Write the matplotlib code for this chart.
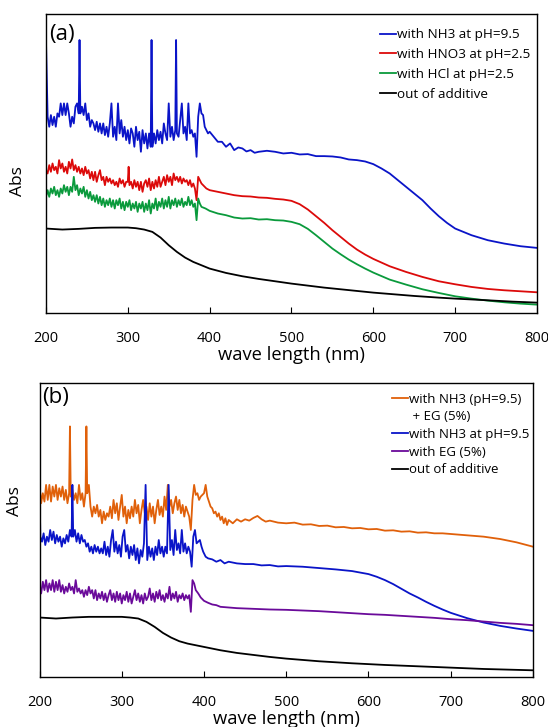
import numpy as np
import matplotlib
matplotlib.use("Agg")
import matplotlib.pyplot as plt

plt.rcParams['font.family'] = ['Open Sans', 'DejaVu Sans']

# ---- panel (a) : (wavelength nm, Abs a.u.)
a_nh3 = [(200, 81.8), (202, 58.8), (204, 55.8), (206, 59.3), (208, 56.3), (210, 58.8), (212, 55.8), (214, 59.8),
         (216, 58.8), (218, 62.8), (220, 59.3), (222, 62.8), (224, 59.3), (226, 62.8), (228, 59.8), (230, 55.8),
         (232, 58.8), (234, 56.8), (236, 61.8), (238, 62.8), (240, 59.8), (241, 81.8), (242, 59.8), (244, 61.8),
         (246, 59.3), (248, 62.8), (250, 57.8), (252, 59.8), (254, 55.8), (256, 57.8), (258, 56.8), (260, 54.8),
         (262, 57.3), (264, 54.3), (266, 56.8), (268, 53.8), (270, 56.8), (272, 53.3), (274, 55.8), (276, 52.8),
         (278, 56.8), (280, 62.8), (282, 52.8), (284, 55.8), (286, 51.8), (288, 62.8), (290, 53.8), (292, 57.8),
         (294, 52.8), (296, 55.8), (298, 51.8), (300, 54.8), (302, 50.8), (304, 55.3), (306, 53.8), (308, 49.8),
         (310, 55.8), (312, 51.8), (314, 54.3), (316, 48.3), (318, 54.8), (320, 50.8), (322, 53.8), (324, 49.3),
         (326, 53.8), (328, 49.8), (329, 81.8), (330, 49.8), (332, 53.8), (334, 50.8), (336, 54.8), (338, 51.8),
         (340, 54.3), (342, 50.8), (344, 56.8), (346, 53.8), (348, 51.8), (350, 62.8), (352, 52.8), (354, 55.8),
         (356, 51.8), (358, 54.8), (359, 81.8), (360, 53.8), (362, 52.8), (364, 57.8), (366, 62.8), (368, 53.8),
         (370, 55.8), (372, 51.8), (374, 62.8), (376, 53.8), (378, 54.8), (380, 52.8), (382, 53.8), (384, 46.8),
         (386, 58.8), (388, 62.8), (390, 59.8), (392, 59.3), (394, 55.8), (396, 54.8), (398, 53.8), (400, 54.3),
         (405, 52.8), (410, 51.3), (415, 51.3), (420, 49.8), (425, 50.8), (430, 48.8), (435, 49.6), (440, 49.3),
         (445, 48.4), (450, 48.8), (455, 48.0), (460, 48.3), (470, 48.6), (480, 48.3), (490, 47.8), (500, 48.0),
         (510, 47.5), (520, 47.6), (530, 47.0), (540, 47.0), (550, 46.9), (560, 46.6), (570, 46.0), (580, 45.8),
         (590, 45.4), (600, 44.6), (610, 43.3), (620, 41.8), (630, 39.8), (640, 37.8), (650, 35.8), (660, 33.8),
         (670, 31.3), (680, 29.0), (690, 27.0), (700, 25.3), (720, 23.3), (740, 21.8), (760, 20.8), (780, 20.0),
         (800, 19.5)]

a_hno3 = [(200, 42.8), (202, 41.8), (204, 44.3), (206, 42.3), (208, 44.8), (210, 42.8), (212, 43.8), (214, 41.8),
          (216, 45.8), (218, 43.3), (220, 44.8), (222, 42.3), (224, 43.8), (226, 41.8), (228, 45.3), (230, 43.3),
          (232, 46.0), (234, 42.8), (236, 44.3), (238, 42.3), (240, 43.8), (242, 41.8), (244, 43.3), (246, 41.3),
          (248, 43.8), (250, 41.8), (252, 42.8), (254, 40.3), (256, 42.3), (258, 39.8), (260, 42.3), (262, 39.3),
          (264, 41.3), (266, 42.8), (268, 39.8), (270, 40.8), (272, 38.3), (274, 40.8), (276, 39.3), (278, 40.3),
          (280, 38.8), (282, 39.8), (284, 38.3), (286, 39.3), (288, 37.8), (290, 40.3), (292, 38.8), (294, 39.8),
          (296, 37.8), (298, 39.3), (300, 39.3), (301, 43.8), (302, 38.3), (304, 39.3), (306, 37.3), (308, 39.8),
          (310, 37.8), (312, 39.3), (314, 36.8), (316, 39.3), (318, 36.3), (320, 38.8), (322, 39.8), (324, 37.8),
          (326, 40.3), (328, 36.8), (330, 39.3), (332, 37.3), (334, 39.8), (336, 37.8), (338, 40.8), (340, 37.8),
          (342, 39.3), (344, 40.8), (346, 38.3), (348, 41.3), (350, 39.3), (352, 40.8), (354, 38.3), (356, 41.8),
          (358, 39.8), (360, 40.8), (362, 39.3), (364, 40.8), (366, 38.8), (368, 40.3), (370, 39.3), (372, 39.8),
          (374, 38.3), (376, 39.8), (378, 37.8), (380, 38.8), (382, 37.3), (384, 33.8), (386, 40.8), (388, 39.8),
          (390, 38.8), (392, 38.3), (394, 37.8), (396, 37.3), (400, 36.8), (410, 36.3), (420, 35.8), (430, 35.3),
          (440, 35.0), (450, 34.9), (460, 34.6), (470, 34.5), (480, 34.2), (490, 34.0), (500, 33.6), (510, 32.6),
          (520, 31.0), (530, 29.0), (540, 27.0), (550, 24.8), (560, 22.8), (570, 20.8), (580, 19.0), (590, 17.5),
          (600, 16.2), (620, 14.0), (640, 12.3), (660, 10.8), (680, 9.5), (700, 8.6), (720, 7.8), (740, 7.2),
          (760, 6.8), (780, 6.5), (800, 6.2)]

a_hcl = [(200, 34.8), (202, 36.8), (204, 34.8), (206, 37.3), (208, 35.8), (210, 37.8), (212, 35.3), (214, 36.8),
         (216, 34.8), (218, 37.3), (220, 35.8), (222, 38.3), (224, 36.3), (226, 37.8), (228, 35.3), (230, 37.8),
         (232, 36.3), (234, 40.8), (236, 36.8), (238, 38.3), (240, 35.3), (242, 37.3), (244, 35.8), (246, 37.8),
         (248, 34.8), (250, 36.8), (252, 34.3), (254, 36.3), (256, 33.8), (258, 35.3), (260, 33.3), (262, 35.3),
         (264, 32.8), (266, 34.8), (268, 32.3), (270, 34.3), (272, 31.8), (274, 33.8), (276, 32.3), (278, 34.3),
         (280, 31.8), (282, 33.8), (284, 31.3), (286, 33.8), (288, 32.3), (290, 34.3), (292, 31.3), (294, 33.3),
         (296, 30.8), (298, 33.3), (300, 31.8), (302, 33.8), (304, 30.8), (306, 32.8), (308, 31.3), (310, 33.3),
         (312, 30.3), (314, 32.8), (316, 31.3), (318, 33.3), (320, 30.3), (322, 32.8), (324, 30.8), (326, 33.8),
         (328, 29.8), (330, 32.8), (332, 31.3), (334, 34.3), (336, 30.8), (338, 33.3), (340, 31.8), (342, 34.3),
         (344, 31.3), (346, 33.8), (348, 31.8), (350, 34.8), (352, 31.3), (354, 33.8), (356, 32.3), (358, 34.3),
         (360, 31.8), (362, 33.8), (364, 32.3), (366, 34.3), (368, 31.8), (370, 33.3), (372, 32.3), (374, 34.8),
         (376, 32.3), (378, 33.8), (380, 31.8), (382, 32.8), (384, 27.8), (386, 34.3), (388, 32.8), (390, 31.8),
         (395, 31.3), (400, 30.6), (410, 29.8), (420, 29.3), (430, 28.6), (440, 28.3), (450, 28.4), (460, 28.0),
         (470, 28.1), (480, 27.8), (490, 27.7), (500, 27.3), (510, 26.6), (520, 25.2), (530, 23.3), (540, 21.3),
         (550, 19.3), (560, 17.6), (570, 16.0), (580, 14.6), (590, 13.3), (600, 12.1), (620, 10.0), (640, 8.5),
         (660, 7.1), (680, 6.0), (700, 5.0), (720, 4.3), (740, 3.7), (760, 3.2), (780, 2.8), (800, 2.5)]

a_none = [(200, 25.3), (220, 25.0), (240, 25.2), (260, 25.5), (280, 25.6), (300, 25.6), (310, 25.4), (320, 25.0),
          (330, 24.3), (340, 22.6), (350, 20.3), (360, 18.3), (370, 16.6), (380, 15.3), (390, 14.3), (400, 13.3),
          (420, 12.0), (440, 11.0), (460, 10.2), (480, 9.5), (500, 8.8), (520, 8.2), (540, 7.6), (560, 7.1),
          (580, 6.6), (600, 6.1), (620, 5.7), (650, 5.1), (680, 4.6), (700, 4.3), (740, 3.8), (770, 3.4),
          (800, 3.1)]

# ---- panel (b)
b_nh3_eg = [(200, 57.5), (202, 52.0), (204, 55.0), (206, 52.5), (208, 57.5), (210, 53.0), (212, 57.5), (214, 52.5),
            (216, 57.0), (218, 54.0), (220, 57.5), (222, 53.0), (224, 56.5), (226, 54.0), (228, 57.0), (230, 53.0),
            (232, 56.0), (234, 52.0), (236, 55.0), (237, 75.0), (238, 54.0), (240, 56.0), (242, 53.0), (244, 55.0),
            (246, 52.0), (248, 57.5), (250, 53.0), (252, 55.0), (254, 51.0), (256, 55.0), (257, 75.0), (258, 55.0),
            (260, 57.5), (262, 51.0), (264, 48.0), (266, 51.0), (268, 49.0), (270, 51.5), (272, 48.0), (274, 50.0),
            (276, 46.0), (278, 49.5), (280, 47.0), (282, 49.0), (284, 48.0), (286, 51.0), (288, 47.5), (290, 53.0),
            (292, 49.0), (294, 52.0), (296, 47.0), (298, 51.0), (300, 54.5), (302, 48.0), (304, 51.0), (306, 46.0),
            (308, 50.0), (310, 47.5), (312, 51.0), (314, 48.0), (316, 53.0), (318, 49.0), (320, 51.5), (322, 46.0),
            (324, 50.0), (326, 53.0), (328, 49.0), (330, 51.0), (332, 47.0), (334, 52.0), (336, 48.0), (338, 51.0),
            (340, 46.0), (342, 50.0), (344, 53.0), (346, 48.5), (348, 51.0), (350, 48.0), (352, 54.0), (354, 50.0),
            (356, 57.5), (358, 51.0), (360, 53.0), (362, 49.0), (364, 52.0), (366, 54.0), (368, 50.0), (370, 53.0),
            (372, 49.0), (374, 51.5), (376, 48.0), (378, 51.0), (380, 49.5), (382, 48.0), (384, 44.0), (386, 53.0),
            (388, 57.5), (390, 54.5), (392, 55.0), (394, 53.0), (396, 54.0), (398, 54.5), (400, 55.0), (402, 57.5),
            (404, 54.0), (406, 52.5), (408, 51.0), (410, 50.5), (412, 49.0), (414, 49.5), (416, 48.0), (418, 49.0),
            (420, 47.0), (422, 48.0), (424, 46.0), (426, 47.5), (428, 45.5), (430, 47.0), (435, 46.0), (440, 47.2),
            (445, 46.5), (450, 47.2), (455, 46.8), (460, 47.6), (465, 48.2), (470, 47.2), (475, 46.5), (480, 46.8),
            (490, 46.2), (500, 46.0), (510, 46.2), (520, 45.6), (530, 45.7), (540, 45.2), (550, 45.3), (560, 44.8),
            (570, 44.9), (580, 44.5), (590, 44.6), (600, 44.2), (610, 44.3), (620, 43.8), (630, 43.9), (640, 43.5),
            (650, 43.6), (660, 43.2), (670, 43.3), (680, 43.0), (690, 43.0), (700, 42.8), (720, 42.4), (740, 42.0),
            (760, 41.3), (780, 40.3), (800, 39.0)]

b_nh3 = [(200, 57.5), (201, 42.0), (203, 40.5), (205, 43.0), (207, 39.5), (209, 42.0), (211, 40.5), (213, 44.0),
         (215, 41.0), (217, 43.5), (219, 40.0), (221, 42.5), (223, 40.5), (225, 42.0), (227, 39.0), (229, 41.5),
         (231, 40.0), (233, 42.5), (235, 40.5), (237, 44.0), (239, 42.0), (240, 57.5), (241, 42.0), (243, 44.0),
         (245, 40.5), (247, 43.0), (249, 40.0), (251, 42.5), (253, 40.5), (255, 41.0), (257, 39.0), (259, 40.0),
         (261, 37.5), (263, 39.0), (265, 37.0), (267, 39.5), (269, 37.5), (271, 39.0), (273, 37.0), (275, 38.5),
         (277, 37.0), (279, 40.5), (281, 36.5), (283, 39.0), (285, 36.0), (287, 41.0), (289, 44.0), (291, 37.5),
         (293, 40.5), (295, 37.0), (297, 39.5), (299, 36.0), (301, 42.0), (303, 44.0), (305, 37.5), (307, 39.5),
         (309, 35.5), (311, 39.0), (313, 36.5), (315, 39.5), (317, 35.0), (319, 38.5), (321, 34.0), (323, 38.0),
         (325, 36.0), (327, 40.0), (329, 57.5), (331, 35.0), (333, 39.0), (335, 36.0), (337, 38.5), (339, 35.0),
         (341, 39.0), (343, 36.5), (345, 41.0), (347, 37.0), (349, 39.0), (351, 36.0), (353, 39.0), (355, 37.0),
         (357, 57.5), (359, 38.0), (361, 41.0), (363, 36.5), (365, 44.0), (367, 38.0), (369, 40.0), (371, 37.0),
         (373, 44.0), (375, 37.5), (377, 40.0), (379, 37.0), (381, 39.0), (383, 37.5), (385, 33.0), (387, 42.0),
         (389, 44.0), (391, 40.0), (393, 40.5), (395, 41.0), (397, 39.0), (399, 37.5), (402, 36.0), (405, 35.5),
         (410, 35.2), (415, 34.5), (420, 35.0), (425, 34.0), (430, 34.5), (440, 34.0), (450, 33.8), (460, 33.8),
         (470, 33.4), (480, 33.5), (490, 33.1), (500, 33.2), (520, 33.0), (540, 32.6), (560, 32.2), (580, 31.7),
         (600, 30.8), (610, 30.0), (620, 29.0), (630, 27.8), (640, 26.4), (650, 25.0), (660, 23.8), (670, 22.5),
         (680, 21.3), (690, 20.2), (700, 19.2), (720, 17.6), (740, 16.3), (760, 15.3), (780, 14.5), (800, 13.8)]

b_eg = [(200, 27.0), (202, 25.0), (204, 28.5), (206, 26.0), (208, 29.0), (210, 25.5), (212, 28.0), (214, 26.0),
        (216, 29.0), (218, 25.5), (220, 28.5), (222, 26.0), (224, 29.0), (226, 25.5), (228, 27.5), (230, 25.0),
        (232, 27.0), (234, 25.5), (236, 28.0), (238, 26.0), (240, 27.0), (242, 25.0), (244, 29.0), (246, 25.5),
        (248, 26.5), (250, 25.0), (252, 26.0), (254, 24.0), (256, 26.0), (258, 24.5), (260, 27.0), (262, 25.0),
        (264, 26.0), (266, 23.5), (268, 26.0), (270, 23.0), (272, 25.0), (274, 23.5), (276, 25.5), (278, 23.0),
        (280, 25.0), (282, 22.5), (284, 24.5), (286, 26.0), (288, 23.0), (290, 25.0), (292, 22.5), (294, 25.5),
        (296, 23.0), (298, 25.0), (300, 22.0), (302, 24.5), (304, 23.0), (306, 25.5), (308, 22.5), (310, 25.0),
        (312, 22.0), (314, 24.0), (316, 26.0), (318, 23.0), (320, 25.0), (322, 22.5), (324, 24.5), (326, 22.0),
        (328, 25.0), (330, 23.0), (332, 24.0), (334, 26.5), (336, 23.0), (338, 25.0), (340, 22.5), (342, 25.5),
        (344, 23.5), (346, 26.0), (348, 23.0), (350, 24.5), (352, 22.5), (354, 25.0), (356, 23.5), (358, 27.0),
        (360, 23.0), (362, 25.0), (364, 23.5), (366, 25.5), (368, 22.5), (370, 24.5), (372, 23.5), (374, 25.0),
        (376, 23.0), (378, 24.5), (380, 23.5), (382, 24.5), (384, 19.5), (386, 29.0), (388, 28.0), (390, 26.0),
        (393, 25.0), (396, 23.8), (400, 22.8), (405, 22.2), (410, 21.7), (415, 21.5), (420, 21.0), (430, 20.8),
        (440, 20.6), (460, 20.4), (480, 20.2), (500, 20.1), (520, 19.9), (540, 19.7), (560, 19.4), (580, 19.1),
        (600, 18.8), (620, 18.6), (640, 18.3), (660, 18.0), (680, 17.7), (700, 17.3), (720, 17.0), (740, 16.6),
        (760, 16.2), (780, 15.9), (800, 15.5)]

b_none = [(200, 17.8), (220, 17.5), (240, 17.8), (260, 18.0), (280, 18.0), (300, 18.0), (310, 17.8), (320, 17.5),
          (330, 16.5), (340, 15.0), (350, 13.2), (360, 11.8), (370, 10.7), (380, 10.0), (390, 9.5), (400, 9.0),
          (420, 8.0), (440, 7.2), (460, 6.6), (480, 6.0), (500, 5.5), (540, 4.7), (580, 4.1), (620, 3.6),
          (660, 3.2), (700, 2.8), (740, 2.4), (770, 2.2), (800, 2.0)]

ticks = [200, 300, 400, 500, 600, 700, 800]


def style_axis(ax, ymax, ylab_pos):
    ax.set_xlim(200, 800)
    ax.set_ylim(0, ymax)
    ax.set_xticks(ticks)
    ax.set_yticks([])
    ax.tick_params(axis='x', direction='in', length=4, pad=13, labelsize=10.5)
    ax.set_xlabel('wave length (nm)', fontsize=13.2, labelpad=0)
    ax.set_ylabel('Abs', fontsize=12.5)
    ax.yaxis.set_label_coords(*ylab_pos)
    for sp in ax.spines.values():
        sp.set_linewidth(1.0)


def draw(ax, pts, color, label):
    arr = np.array(pts)
    ax.plot(arr[:, 0], arr[:, 1], color=color, lw=1.3, label=label)


fig = plt.figure(figsize=(5.48, 7.27), dpi=100)

ax1 = fig.add_axes([0.0839, 0.5695, 0.896, 0.4113])
draw(ax1, a_nh3, '#0a14c8', 'with NH3 at pH=9.5')
draw(ax1, a_hno3, '#dc0a0a', 'with HNO3 at pH=2.5')
draw(ax1, a_hcl, '#0a9a3c', 'with HCl at pH=2.5')
draw(ax1, a_none, '#000000', 'out of additive')
style_axis(ax1, 89.6, (-0.04, 0.44))
ax1.text(0.006, 0.965, '(a)', transform=ax1.transAxes, fontsize=16, va='top', ha='left')
ax1.legend(loc='upper left', bbox_to_anchor=(0.68, 0.952), frameon=False, fontsize=9.7,
           handlelength=1.2, handletextpad=0.1, labelspacing=0.5, borderpad=0, borderaxespad=0)

ax2 = fig.add_axes([0.0721, 0.0688, 0.9005, 0.4044])
draw(ax2, b_nh3_eg, '#e0600a', 'with NH3 (pH=9.5)')
ax2.plot([], [], color='none', label=' + EG (5%)')
draw(ax2, b_nh3, '#0a14c8', 'with NH3 at pH=9.5')
draw(ax2, b_eg, '#6a0a9a', 'with EG (5%)')
draw(ax2, b_none, '#000000', 'out of additive')
style_axis(ax2, 88, (-0.033, 0.60))
ax2.text(0.006, 0.985, '(b)', transform=ax2.transAxes, fontsize=16, va='top', ha='left')
ax2.legend(loc='upper left', bbox_to_anchor=(0.714, 0.967), frameon=False, fontsize=9.5,
           handlelength=1.2, handletextpad=0.1, labelspacing=0.35, borderpad=0, borderaxespad=0)

fig.savefig('out.png', dpi=100)
